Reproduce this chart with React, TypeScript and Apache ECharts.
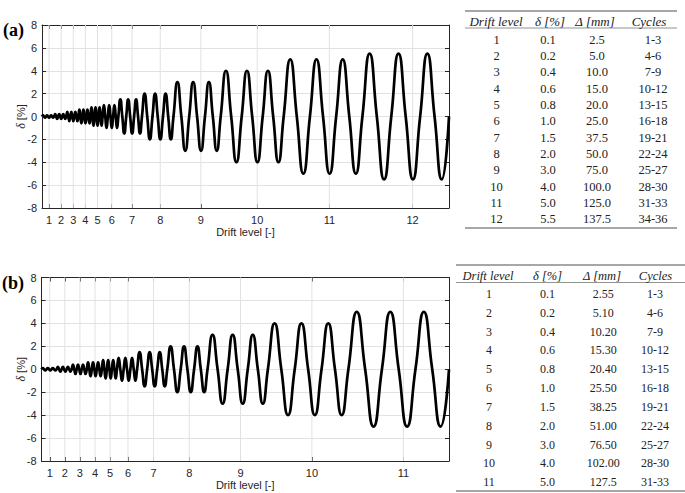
import React, { useEffect, useRef } from "react";
import * as echarts from "echarts";

// ---- Data ----
const amplitudesA = [0.1, 0.2, 0.4, 0.6, 0.8, 1.0, 1.5, 2.0, 3.0, 4.0, 5.0, 5.5];
const periodsA = [0.77, 0.77, 0.77, 0.77, 0.77, 1.0, 1.5, 2.0, 3.0, 4.0, 5.0, 5.5];
const tickOffsetA = 1.74;

const amplitudesB = [0.1, 0.2, 0.4, 0.6, 0.8, 1.0, 1.5, 2.0, 3.0, 4.0, 5.0];
const periodsB = [0.75, 0.75, 0.75, 0.75, 0.75, 1.0, 1.5, 2.0, 3.0, 4.0, 5.0];
const tickOffsetB = 1.64;

const cyclesPerLevel = 3;

const tableHeaders = ["Drift level", "δ [%]", "Δ [mm]", "Cycles"];
const tableADrift = ["1", "2", "3", "4", "5", "6", "7", "8", "9", "10", "11", "12"];
const tableADelta = ["0.1", "0.2", "0.4", "0.6", "0.8", "1.0", "1.5", "2.0", "3.0", "4.0", "5.0", "5.5"];
const tableADisp = ["2.5", "5.0", "10.0", "15.0", "20.0", "25.0", "37.5", "50.0", "75.0", "100.0", "125.0", "137.5"];
const tableACycles = ["1-3", "4-6", "7-9", "10-12", "13-15", "16-18", "19-21", "22-24", "25-27", "28-30", "31-33", "34-36"];

const tableBDrift = ["1", "2", "3", "4", "5", "6", "7", "8", "9", "10", "11"];
const tableBDelta = ["0.1", "0.2", "0.4", "0.6", "0.8", "1.0", "1.5", "2.0", "3.0", "4.0", "5.0"];
const tableBDisp = ["2.55", "5.10", "10.20", "15.30", "20.40", "25.50", "38.25", "51.00", "76.50", "102.00", "127.5"];
const tableBCycles = ["1-3", "4-6", "7-9", "10-12", "13-15", "16-18", "19-21", "22-24", "25-27", "28-30", "31-33"];

// key points of each cycle: zero, peak, zero, trough, zero
function buildWave(amps: number[], periods: number[], offset: number) {
  const pts: number[][] = [[0, 0]];
  const ticks: number[] = [];
  let t = 0;
  amps.forEach((a, i) => {
    const p = periods[i];
    ticks.push(t + offset * p);
    for (let c = 0; c < cyclesPerLevel; c++) {
      pts.push([t + p / 4, a]);
      pts.push([t + p / 2, 0]);
      pts.push([t + (3 * p) / 4, -a]);
      pts.push([t + p, 0]);
      t += p;
    }
  });
  return { pts, ticks, total: t };
}

const AXIS_COLOR = "#262626";
const GRID_COLOR = "#e2e2e2";
const AXIS_FONT = "Liberation Sans";

function App() {
  const ref = useRef<HTMLDivElement>(null);

  useEffect(() => {
    document.body.style.margin = "0";
    if (!ref.current) return;
    const chart = echarts.init(ref.current, null, { renderer: "svg" });

    const wa = buildWave(amplitudesA, periodsA, tickOffsetA);
    const wb = buildWave(amplitudesB, periodsB, tickOffsetB);

    const grids = [
      { left: 42, right: 236, top: 25, height: 183 },
      { left: 41.5, right: 236, top: 277.5, height: 183.5 },
    ];
    const waves = [wa, wb];

    const xAxes: any[] = [];
    const yAxes: any[] = [];
    const series: any[] = [];

    waves.forEach((w, gi) => {
      const tickLabel = (v: number) => {
        const idx = w.ticks.findIndex((t) => Math.abs(t - v) < 1e-6);
        return idx >= 0 ? String(idx + 1) : "";
      };
      xAxes.push({
        gridIndex: gi,
        type: "value",
        min: 0,
        max: w.total,
        position: "bottom",
        name: "Drift level [-]",
        nameLocation: "middle",
        nameGap: 18,
        nameMoveOverlap: false,
        nameTextStyle: { color: AXIS_COLOR, fontFamily: AXIS_FONT, fontSize: 11 },
        axisLine: { show: true, onZero: false, lineStyle: { color: AXIS_COLOR, width: 1 } },
        axisTick: { show: true, inside: true, length: 4, customValues: w.ticks, lineStyle: { color: AXIS_COLOR } },
        axisLabel: {
          show: true,
          customValues: w.ticks,
          formatter: tickLabel,
          color: AXIS_COLOR,
          fontFamily: AXIS_FONT,
          fontSize: 11,
          margin: 6,
        },
        splitLine: { show: false },
      });
      xAxes.push({
        gridIndex: gi,
        type: "value",
        min: 0,
        max: w.total,
        position: "top",
        axisLine: { show: true, onZero: false, lineStyle: { color: AXIS_COLOR, width: 1 } },
        axisTick: { show: true, inside: true, length: 4, customValues: w.ticks, lineStyle: { color: AXIS_COLOR } },
        axisLabel: { show: false },
        splitLine: { show: false },
      });
      yAxes.push({
        gridIndex: gi,
        type: "value",
        min: -8,
        max: 8,
        interval: 2,
        position: "left",
        name: "{i|δ} [%]",
        nameLocation: "middle",
        nameGap: 15,
        nameMoveOverlap: false,
        nameTextStyle: {
          color: AXIS_COLOR,
          fontFamily: AXIS_FONT,
          fontSize: 11,
          rich: { i: { fontStyle: "italic", fontFamily: "Liberation Serif", fontSize: 12, color: AXIS_COLOR } },
        },
        axisLine: { show: true, onZero: false, lineStyle: { color: AXIS_COLOR, width: 1 } },
        axisTick: { show: true, inside: true, length: 4, lineStyle: { color: AXIS_COLOR } },
        axisLabel: { color: AXIS_COLOR, fontFamily: AXIS_FONT, fontSize: 11, margin: 5 },
        splitLine: { show: true, lineStyle: { color: GRID_COLOR, width: 1 } },
      });
      yAxes.push({
        gridIndex: gi,
        type: "value",
        min: -8,
        max: 8,
        interval: 2,
        position: "right",
        axisLine: { show: true, onZero: false, lineStyle: { color: AXIS_COLOR, width: 1 } },
        axisTick: { show: true, inside: true, length: 4, lineStyle: { color: AXIS_COLOR } },
        axisLabel: { show: false },
        splitLine: { show: false },
      });

      // vertical grid lines at the drift-level ticks
      w.ticks.forEach((t) => {
        series.push({
          type: "line",
          xAxisIndex: gi * 2,
          yAxisIndex: gi * 2,
          data: [
            [t, -8],
            [t, 8],
          ],
          symbol: "none",
          silent: true,
          z: 1,
          lineStyle: { color: GRID_COLOR, width: 1 },
        });
      });

      series.push({
        type: "line",
        xAxisIndex: gi * 2,
        yAxisIndex: gi * 2,
        data: w.pts,
        symbol: "none",
        smooth: 0.55,
        z: 5,
        lineStyle: { color: "#000000", width: 2.7 },
      });
    });

    // ---- tables as graphic elements ----
    const graphic: any[] = [];
    const serif = '"Liberation Serif", "DejaVu Serif", serif';
    const addTable = (
      cols: string[][],
      colX: number[],
      headerX: number[],
      x1: number,
      x2: number,
      topRule: number,
      headerY: number,
      headerRule: number,
      firstRow: number,
      rowStep: number,
      bottomRule: number,
      headerSize: number,
      bodySize: number
    ) => {
      [topRule, headerRule, bottomRule].forEach((y, i) => {
        graphic.push({
          type: "line",
          shape: { x1, y1: y, x2, y2: y },
          style: { stroke: i === 1 ? "#777" : "#8a8a8a", lineWidth: i === 1 ? 0.8 : 1.3 },
          silent: true,
        });
      });
      tableHeaders.forEach((h, ci) => {
        graphic.push({
          type: "text",
          x: headerX[ci],
          y: headerY,
          style: {
            text: h,
            font: `italic ${headerSize}px ${serif}`,
            fill: "#222",
            textAlign: "center",
            textVerticalAlign: "middle",
          },
          silent: true,
        });
      });
      cols.forEach((col, ci) => {
        col.forEach((v, ri) => {
          graphic.push({
            type: "text",
            x: colX[ci],
            y: firstRow + ri * rowStep,
            style: {
              text: v,
              font: `${bodySize}px ${serif}`,
              fill: "#222",
              textAlign: "center",
              textVerticalAlign: "middle",
            },
            silent: true,
          });
        });
      });
    };

    addTable(
      [tableADrift, tableADelta, tableADisp, tableACycles],
      [496.5, 548, 597, 653],
      [496, 550, 595, 649],
      465,
      677,
      11,
      21.5,
      28,
      39.5,
      16.36,
      228,
      13,
      12.5
    );
    addTable(
      [tableBDrift, tableBDelta, tableBDisp, tableBCycles],
      [489, 547.5, 603.3, 655],
      [488, 547.5, 602, 655.5],
      456,
      685,
      265,
      275.7,
      282.5,
      294,
      18.83,
      491,
      12.5,
      12
    );

    graphic.push({
      type: "text",
      x: 3,
      y: 30,
      style: { text: "(a)", font: `bold 18px ${serif}`, fill: "#000", textVerticalAlign: "middle" },
      silent: true,
    });
    graphic.push({
      type: "text",
      x: 2,
      y: 283,
      style: { text: "(b)", font: `bold 18px ${serif}`, fill: "#000", textVerticalAlign: "middle" },
      silent: true,
    });

    chart.setOption({
      animation: false,
      backgroundColor: "#ffffff",
      grid: grids.map((g) => ({ ...g, containLabel: false })),
      xAxis: xAxes,
      yAxis: yAxes,
      series,
      graphic,
    });

    return () => chart.dispose();
  }, []);

  return <div ref={ref} style={{ width: 685, height: 493 }} />;
}

export default App;
